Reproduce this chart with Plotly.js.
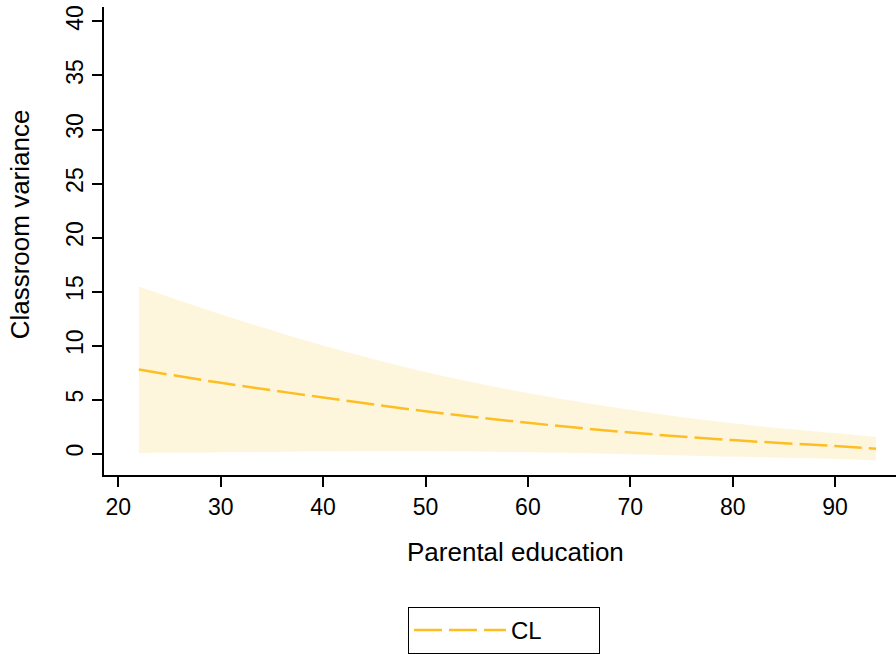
<!DOCTYPE html>
<html>
<head>
<meta charset="utf-8">
<script src="https://cdn.plot.ly/plotly-3.0.1.min.js"></script>
<style>html,body{margin:0;padding:0;background:#fff;}#chart{width:896px;height:654px;}</style>
</head>
<body>
<div id="chart"></div>
<script>
// Data
var parentalEducation = [22, 30, 40, 50, 60, 70, 80, 90, 94];
var classroomVariance = [7.78, 6.55, 5.2, 3.92, 2.85, 1.95, 1.25, 0.7, 0.46];
var upperBound = [15.47, 12.9, 10.0, 7.55, 5.6, 4.05, 2.8, 1.9, 1.54];
var lowerBound = [0.06, 0.12, 0.2, 0.22, 0.12, -0.05, -0.28, -0.5, -0.62];
var seriesName = "CL";
var xTitle = "Parental education";
var yTitle = "Classroom variance";
var xTicks = [20, 30, 40, 50, 60, 70, 80, 90];
var yTicks = [0, 5, 10, 15, 20, 25, 30, 35, 40];

var font = "Liberation Sans, Arial, Helvetica, sans-serif";
var lineColor = "#FDBE22";
var bandColor = "rgb(254,246,220)";

var traces = [
  {x: parentalEducation, y: lowerBound, mode: "lines", line: {width: 0, shape: "spline"},
   showlegend: false, hoverinfo: "skip"},
  {x: parentalEducation, y: upperBound, mode: "lines", line: {width: 0, shape: "spline"},
   fill: "tonexty", fillcolor: bandColor, showlegend: false, hoverinfo: "skip"},
  {x: parentalEducation, y: classroomVariance, mode: "lines", name: seriesName,
   line: {color: lineColor, width: 2.5, dash: "28px,7px", shape: "spline"}}
];

var layout = {
  width: 896, height: 654,
  margin: {l: 104, r: 0, t: 7, b: 177.5},
  paper_bgcolor: "#fff", plot_bgcolor: "#fff",
  font: {family: font, color: "#000"},
  showlegend: true,
  legend: {orientation: "h", x: 0.3838, xanchor: "left", y: -0.2824, yanchor: "top",
           font: {size: 24, family: font}, bordercolor: "#000", borderwidth: 1,
           itemwidth: 92, entrywidth: 83, entrywidthmode: "pixels"},
  xaxis: {range: [18.6, 95.95], tickvals: xTicks, ticktext: xTicks.map(String),
          showgrid: false, zeroline: false, showline: true, linecolor: "#000", linewidth: 2,
          ticks: "outside", ticklen: 10, tickwidth: 2, tickcolor: "#000",
          tickfont: {size: 23, family: font}},
  yaxis: {range: [-1.98, 41.34], tickvals: yTicks, ticktext: yTicks.map(String),
          showgrid: false, zeroline: false, showline: true, linecolor: "#000", linewidth: 2,
          ticks: "outside", ticklen: 10, tickwidth: 2, tickcolor: "#000", tickangle: -90,
          tickfont: {size: 23, family: font}},
  annotations: [
    {text: xTitle, xref: "paper", yref: "paper", x: 0.5202, y: -0.165,
     xanchor: "center", yanchor: "middle", showarrow: false, font: {size: 26, family: font}},
    {text: yTitle, xref: "paper", yref: "paper", x: -0.106, y: 0.5357, textangle: -90,
     xanchor: "center", yanchor: "middle", showarrow: false, font: {size: 26, family: font}}
  ]
};

Plotly.newPlot("chart", traces, layout, {displayModeBar: false, staticPlot: true});
</script>
</body>
</html>
